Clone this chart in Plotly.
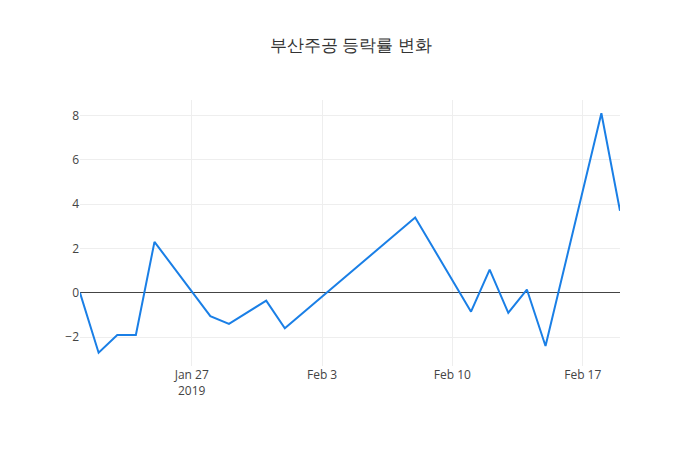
import plotly.graph_objects as go

dates = ["2019-01-21", "2019-01-22", "2019-01-23", "2019-01-24", "2019-01-25",
         "2019-01-28", "2019-01-29", "2019-01-31", "2019-02-01", "2019-02-08",
         "2019-02-11", "2019-02-12", "2019-02-13", "2019-02-14", "2019-02-15",
         "2019-02-18", "2019-02-19"]
changes = [0.0, -2.7, -1.9, -1.9, 2.3,
           -1.05, -1.4, -0.35, -1.6, 3.4,
           -0.85, 1.05, -0.9, 0.15, -2.4,
           8.1, 3.7]

fig = go.Figure(go.Scatter(x=dates, y=changes, mode="lines",
                           line=dict(color="#1a7fe6", width=2)))
fig.update_layout(
    title=dict(text="부산주공 등락률 변화", x=0.49, y=0.93, font=dict(size=17, color="#333")),
    width=700, height=450,
    margin=dict(l=72, r=88, t=92, b=92),
    plot_bgcolor="white", paper_bgcolor="white",
    font=dict(family="Open Sans", color="#444"),
    showlegend=False,
)
fig.update_xaxes(showgrid=True, gridcolor="#eee", zeroline=False,
                 range=["2019-01-21", "2019-02-19"])
fig.update_yaxes(showgrid=True, gridcolor="#eee", zeroline=True,
                 zerolinecolor="#444", zerolinewidth=1, dtick=2)
fig.write_html("out.html")
